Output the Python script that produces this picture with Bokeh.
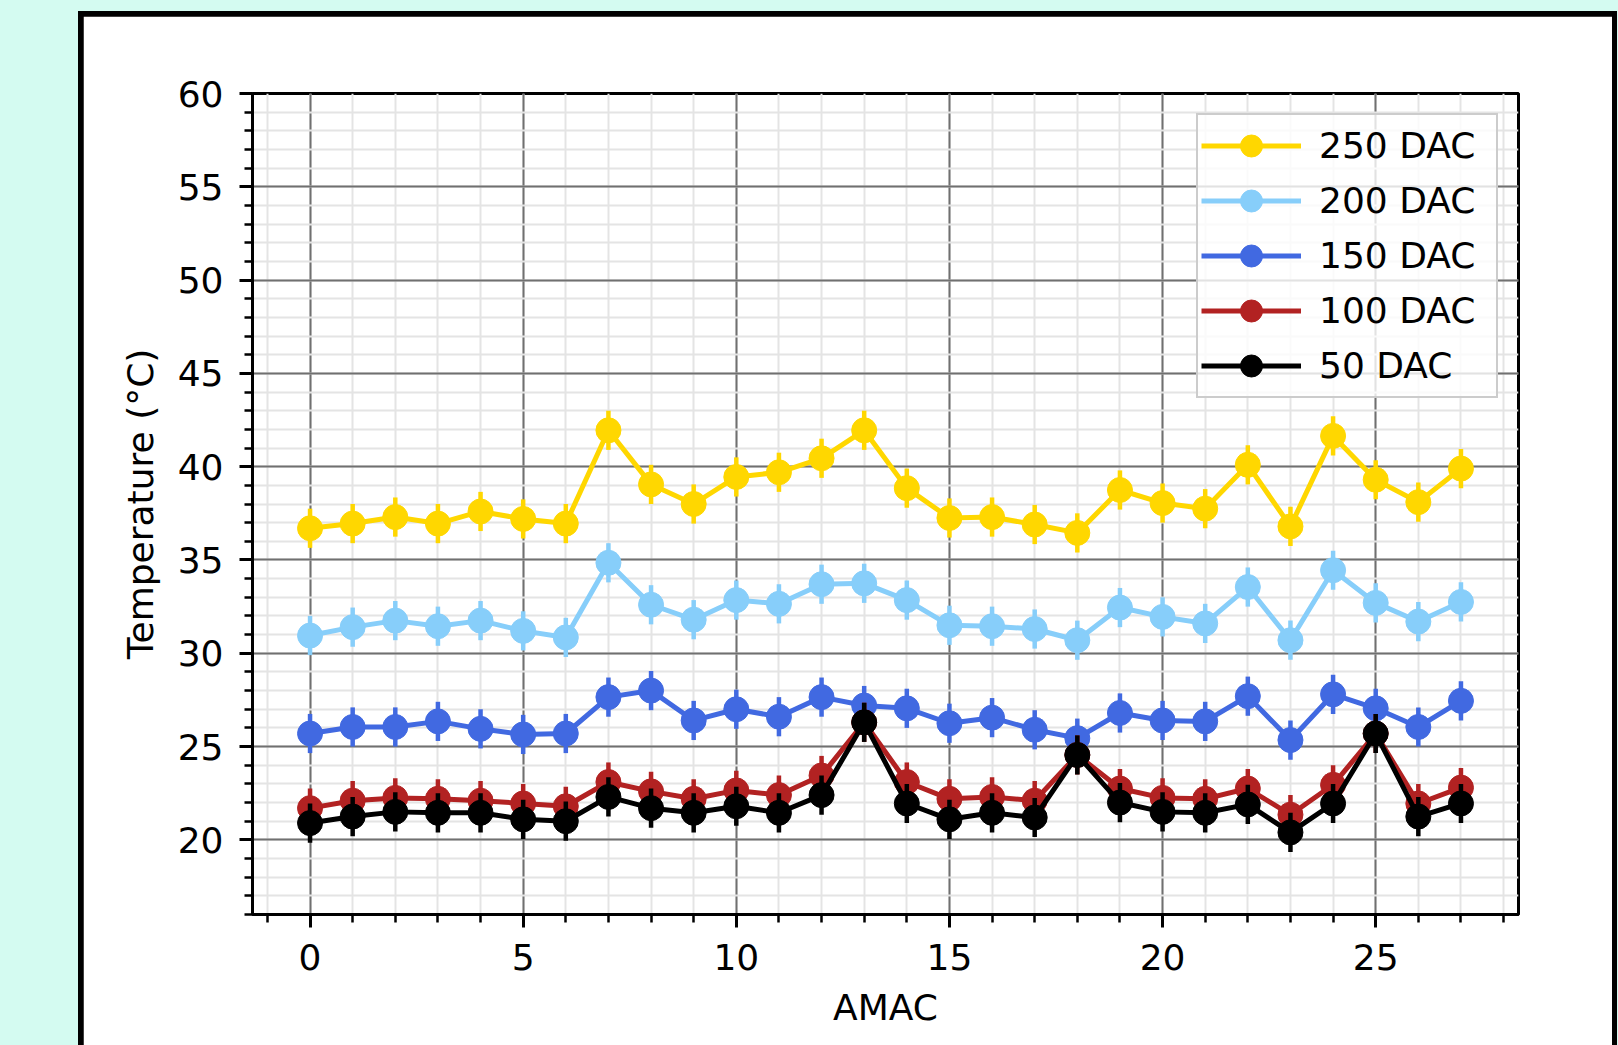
from bokeh.plotting import figure
from bokeh.layouts import column
from bokeh.models import (SingleIntervalTicker, Legend, LegendItem,
                          Range1d, ColumnDataSource)
from bokeh.embed import file_html
from bokeh.resources import INLINE

# ---------------- data ----------------
amac = list(range(28))
dac250 = [36.7, 36.95, 37.3, 36.95, 37.6, 37.2, 36.95, 41.95, 39.05, 38.0, 39.45, 39.7, 40.45, 41.95,
          38.85, 37.25, 37.3, 36.9, 36.45, 38.75, 38.05, 37.75, 40.1, 36.8, 41.65, 39.3, 38.1, 39.9]
dac200 = [30.95, 31.4, 31.75, 31.45, 31.75, 31.2, 30.85, 34.85, 32.6, 31.8, 32.85, 32.65, 33.7, 33.75,
          32.85, 31.5, 31.45, 31.3, 30.7, 32.45, 31.95, 31.6, 33.55, 30.7, 34.45, 32.7, 31.7, 32.75]
dac150 = [25.7, 26.05, 26.05, 26.35, 25.95, 25.65, 25.7, 27.65, 28.0, 26.4, 27.0, 26.6, 27.65, 27.2,
          27.05, 26.25, 26.55, 25.9, 25.45, 26.8, 26.4, 26.35, 27.7, 25.35, 27.8, 27.05, 26.05, 27.45]
dac100 = [21.7, 22.1, 22.25, 22.2, 22.1, 21.95, 21.8, 23.1, 22.6, 22.2, 22.65, 22.4, 23.45, 26.3,
          23.1, 22.2, 22.3, 22.1, 24.55, 22.75, 22.25, 22.2, 22.75, 21.35, 22.95, 25.7, 21.95, 22.8]
dac50 = [20.9, 21.25, 21.5, 21.45, 21.45, 21.1, 21.0, 22.3, 21.7, 21.45, 21.8, 21.45, 22.4, 26.3,
         21.95, 21.1, 21.45, 21.2, 24.55, 22.0, 21.5, 21.45, 21.9, 20.4, 21.95, 25.7, 21.25, 21.95]
temp_err = 1.05
series_labels = ["250 DAC", "200 DAC", "150 DAC", "100 DAC", "50 DAC"]
series_values = [dac250, dac200, dac150, dac100, dac50]
series_colors = ["#FFD700", "#87CEFA", "#4169E1", "#B22222", "#000000"]

CYAN = "#d4fbf1"
FONT = "DejaVu Sans"

p = figure(width=1529, height=1029,
           x_range=Range1d(-1.35, 28.35), y_range=Range1d(16, 60),
           output_backend="svg", toolbar_location=None,
           min_border_left=169, min_border_right=94,
           min_border_top=77, min_border_bottom=131,
           background_fill_color="white", border_fill_color="white",
           margin=(5, 5, 0, 5))

# axes
for ax in (p.xaxis[0], p.yaxis[0]):
    ax.ticker = SingleIntervalTicker(interval=5, num_minor_ticks=5)
    ax.axis_line_color = "black"
    ax.axis_line_width = 3
    ax.major_tick_in = 0
    ax.major_tick_out = 13
    ax.major_tick_line_width = 3
    ax.minor_tick_in = 0
    ax.minor_tick_out = 8
    ax.minor_tick_line_width = 2.5
    ax.major_label_text_font = FONT
    ax.major_label_text_font_size = "36px"
    ax.major_label_text_color = "black"
    ax.axis_label_text_font = FONT
    ax.axis_label_text_font_size = "36px"
    ax.axis_label_text_font_style = "normal"
    ax.axis_label_text_color = "black"

p.xaxis.axis_label = "AMAC"
p.yaxis.axis_label = "Temperature (°C)"
p.xaxis.major_label_standoff = 16
p.yaxis.major_label_standoff = 16
p.xaxis.axis_label_standoff = 14
p.yaxis.axis_label_standoff = 14

p.outline_line_color = "black"
p.outline_line_width = 3
p.outline_line_alpha = 1

for g in (p.xgrid[0], p.ygrid[0]):
    g.grid_line_color = "#707070"
    g.grid_line_width = 2
    g.minor_grid_line_color = "#e4e4e4"
    g.minor_grid_line_width = 2

# series
items = []
for lab, vals, col in zip(series_labels, series_values, series_colors):
    src = ColumnDataSource(dict(x=amac, y=vals,
                                lo=[v - temp_err for v in vals],
                                hi=[v + temp_err for v in vals]))
    p.segment(x0="x", y0="lo", x1="x", y1="hi", source=src, line_color=col, line_width=4.5)
    lr = p.line("x", "y", source=src, line_color=col, line_width=5)
    sr = p.scatter("x", "y", source=src, marker="circle", size=25,
                   fill_color=col, line_color=col, line_width=1)
    items.append(LegendItem(label=lab, renderers=[lr, sr]))

legend = Legend(items=items, location="top_right", margin=20,
                glyph_width=100, glyph_height=55, spacing=0, padding=3,
                label_standoff=18, label_width=174, label_height=40,
                label_text_font=FONT, label_text_font_size="36px",
                label_text_color="black",
                border_line_color="#cccccc", border_line_width=2, border_line_alpha=1,
                background_fill_color="white", background_fill_alpha=0.8)
p.add_layout(legend, "center")

# white panel with black border on a cyan page
panel = column(p, styles={"background-color": "black"}, margin=(11, 1, 0, 78))
root = column(panel, width=1618, height=1045, styles={"background-color": CYAN})

open("out.html", "w").write(file_html(root, INLINE))
